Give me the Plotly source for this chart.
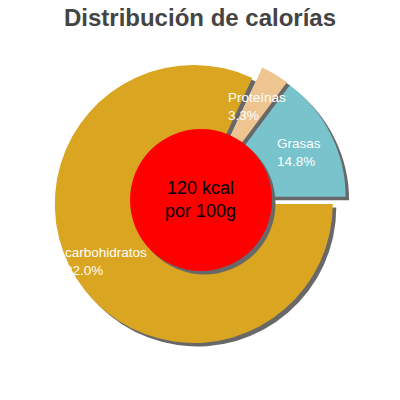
import numpy as np
import plotly.graph_objects as go

# Data
labels = ["Grasas", "Proteínas", "carbohidratos"]
values = [14.8, 3.3, 82.0]
colors = ["#78C3CC", "#EEC591", "#DAA520"]
center_line1 = "120 kcal"
center_line2 = "por 100g"
title_text = "Distribución de calorías"

W = H = 400
cx, cy = 200.0, 200.0          # pie centre, px
R = 139.0                      # pie radius, px
pull = 0.053
hole_r = 71.0                  # red disc radius, px
sh = 3.5                       # shadow offset, px
shadow_col = "#686868"

def dom(x, y, r):
    return dict(x=[(x - r) / W, (x + r) / W], y=[1 - (y + r) / H, 1 - (y - r) / H])

fr = np.array(values) / np.sum(values)
rot = 90 - 360 * fr[0]

box_r = R * (1 + pull)
common = dict(values=values, labels=labels, sort=False, direction="counterclockwise",
              rotation=rot, pull=[pull] * len(values), textinfo="none",
              hoverinfo="skip", showlegend=False)

fig = go.Figure()
# slice shadows
fig.add_trace(go.Pie(**common, domain=dom(cx + sh, cy + sh, box_r),
                     marker=dict(colors=[shadow_col] * len(values), line=dict(width=0))))
# slices
fig.add_trace(go.Pie(**common, domain=dom(cx, cy, box_r),
                     marker=dict(colors=colors, line=dict(width=0))))
# centre disc shadow and disc
fig.add_trace(go.Pie(values=[1], sort=False, textinfo="none", hoverinfo="skip", showlegend=False,
                     domain=dom(cx + 1 + sh, cy + sh, hole_r),
                     marker=dict(colors=[shadow_col], line=dict(width=0))))
fig.add_trace(go.Pie(values=[1], sort=False, textinfo="none", hoverinfo="skip", showlegend=False,
                     domain=dom(cx + 1, cy, hole_r),
                     marker=dict(colors=["#FF0000"], line=dict(width=0))))

# slice labels along bisectors
starts = np.concatenate([[0], np.cumsum(fr)[:-1]])
mids = 2 * np.pi * (starts + fr / 2)
annotations = []
for lab, v, a in zip(labels, values, mids):
    px = cx + 0.8 * R * np.cos(a)
    py = cy - 0.8 * R * np.sin(a)
    annotations.append(dict(x=px / W, y=1 - (py + 2) / H, xref="paper", yref="paper",
                            text=f"{lab}<br>{v:.1f}%", showarrow=False, align="left",
                            xanchor="center", yanchor="middle",
                            font=dict(family="Liberation Sans, Arial", size=13.5, color="white")))
annotations.append(dict(x=(cx + 1) / W, y=1 - (cy - 1) / H, xref="paper", yref="paper",
                        text=f"{center_line1}<br>{center_line2}", showarrow=False,
                        xanchor="center", yanchor="middle", align="center",
                        font=dict(family="Liberation Sans, Arial", size=18, color="black")))

fig.update_layout(
    width=W, height=H, margin=dict(l=0, r=0, t=0, b=0),
    paper_bgcolor="white", plot_bgcolor="white",
    title=dict(text=f"<b>{title_text}</b>", x=0.5, xanchor="center", y=1 - 18 / H,
               yanchor="middle", yref="container",
               font=dict(family="Liberation Sans, Arial", size=24, color="#444444")),
    annotations=annotations,
)
fig.write_html("out.html", config={"displayModeBar": False},
               post_script="document.body.style.margin='0';document.body.style.overflow='hidden';")
